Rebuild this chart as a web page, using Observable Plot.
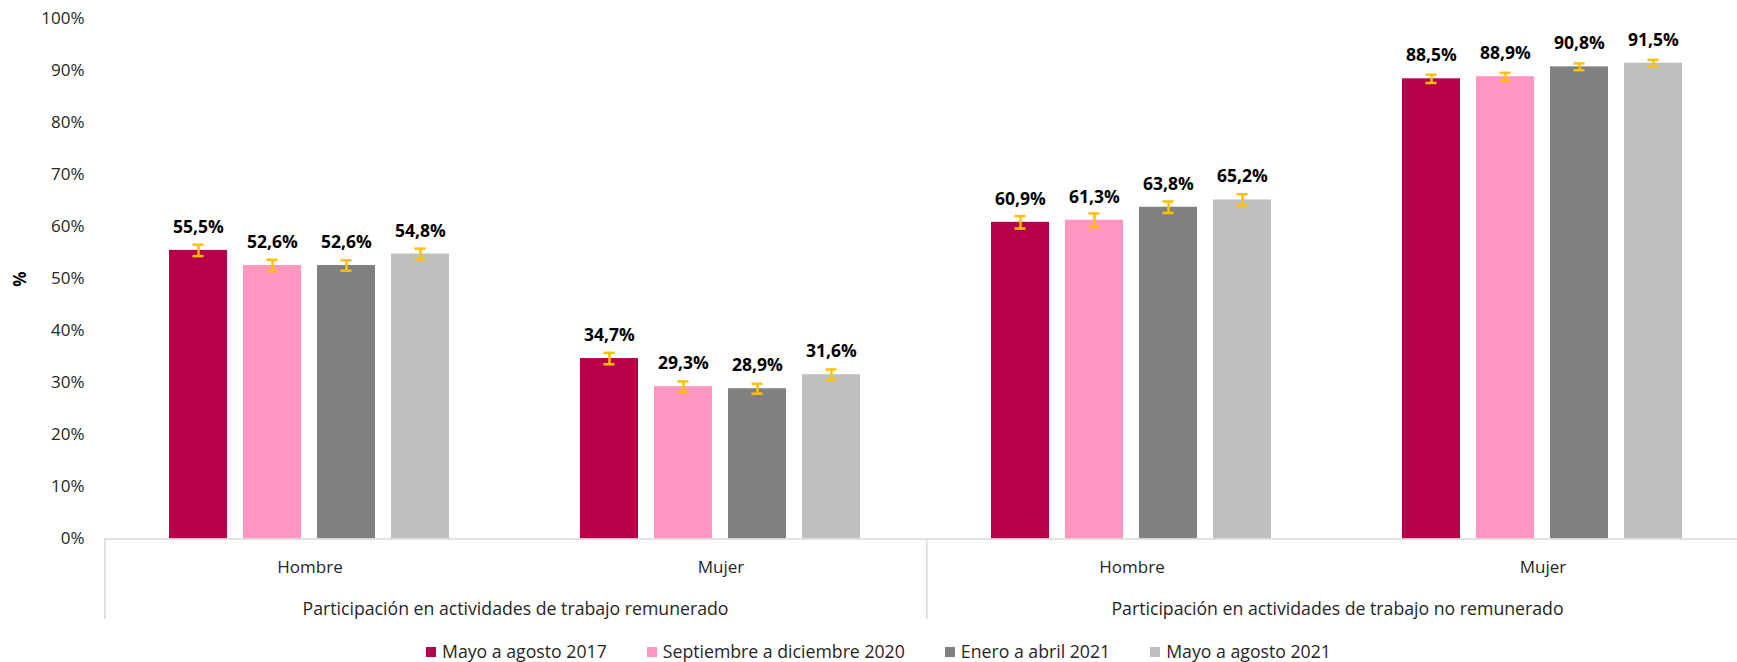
<!DOCTYPE html>
<html>
<head>
<meta charset="utf-8">
<script src="https://cdn.jsdelivr.net/npm/d3@7"></script>
<script src="https://cdn.jsdelivr.net/npm/@observablehq/plot@0.6"></script>
<style>
  html, body { margin: 0; padding: 0; background: #fff; overflow: hidden; width: 1737px; height: 662px; }
  #chart { position: absolute; left: 0; top: 0; width: 1748px; }
  #chart svg { max-width: none !important; }
  #legend { position: absolute; left: 426px; top: 640px; display: flex; gap: 40px;
            font-family: "Open Sans", sans-serif; font-size: 17.7px; line-height: 23px; color: #262626; white-space: nowrap; }
  .item { display: flex; align-items: center; }
  .sw { width: 10px; height: 10px; margin-right: 6px; }
</style>
</head>
<body>
<div id="chart"></div>
<div id="legend"></div>
<script>
// ---- data ----
const groups = ["Participación en actividades de trabajo remunerado", "Participación en actividades de trabajo no remunerado"];
const sexes = ["Hombre", "Mujer"];
const periods = ["Mayo a agosto 2017", "Septiembre a diciembre 2020", "Enero a abril 2021", "Mayo a agosto 2021"];
const colors = ["#B70049", "#FF96C1", "#808080", "#BFBFBF"];
const remHombre = [55.5, 52.6, 52.6, 54.8];
const remMujer = [34.7, 29.3, 28.9, 31.6];
const noRemHombre = [60.9, 61.3, 63.8, 65.2];
const noRemMujer = [88.5, 88.9, 90.8, 91.5];
// margin of error (± percentage points)
const errRemHombre = [1.1, 1.1, 1.0, 1.05];
const errRemMujer = [1.1, 1.0, 0.95, 1.0];
const errNoRemHombre = [1.2, 1.3, 1.1, 1.1];
const errNoRemMujer = [0.8, 0.75, 0.65, 0.65];
const yTicks = [0, 10, 20, 30, 40, 50, 60, 70, 80, 90, 100];

// ---- build table ----
const series = [
  [groups[0], sexes[0], remHombre, errRemHombre],
  [groups[0], sexes[1], remMujer, errRemMujer],
  [groups[1], sexes[0], noRemHombre, errNoRemHombre],
  [groups[1], sexes[1], noRemMujer, errNoRemMujer]
];
const keys = series.map(([g, s]) => g + "|" + s);
const rows = series.flatMap(([g, s, vals, errs]) =>
  periods.map((p, i) => ({key: g + "|" + s, group: g, sex: s, period: p, value: vals[i], err: errs[i]})));

// ---- layout ----
const W = 1748, H = 625;
const mL = 103, mR = 0, mT = 18.5, y0px = 538.5;
const mB = H - y0px;
const pIn = 0.21, pOut = 0.86;
const groupW = (W - mL - mR) / keys.length;
const step = groupW / (periods.length - pIn + 2 * pOut);
const bw = step * (1 - pIn);
const capW = 12;
const sepDepth = 15.5; // in % units below the baseline

const chart = Plot.plot({
  width: W, height: H,
  marginLeft: mL, marginRight: mR, marginTop: mT, marginBottom: mB,
  style: {fontFamily: "Open Sans", fontSize: "17px", color: "#262626", background: "transparent", overflow: "visible", maxWidth: "none"},
  fx: {domain: keys, padding: 0, label: null, tickSize: 0, tickPadding: 22, tickFormat: k => k.split("|")[1], axis: "bottom"},
  x: {domain: periods, paddingInner: pIn, paddingOuter: pOut, axis: null},
  y: {domain: [0, 100], ticks: yTicks, tickSize: 0, tickPadding: 20, tickFormat: d => d + "%", label: null},
  color: {domain: periods, range: colors},
  marks: [
    Plot.barY(rows, {fx: "key", x: "period", y: "value", fill: "period"}),
    Plot.ruleY([0], {stroke: "#d9d9d9", strokeWidth: 1.5}),
    Plot.ruleX([{k: keys[0]}, {k: keys[2]}], {fx: "k", x: () => periods[0], y1: 0, y2: -sepDepth,
      dx: -(pOut * step + bw / 2), stroke: "#d9d9d9", strokeWidth: 1.5}),
    Plot.ruleX(rows, {fx: "key", x: "period", y1: d => d.value - d.err, y2: d => d.value + d.err, stroke: "#FFC000", strokeWidth: 2.5}),
    Plot.tickY(rows, {fx: "key", x: "period", y: d => d.value - d.err, stroke: "#FFC000", strokeWidth: 2.5, insetLeft: (bw - capW) / 2, insetRight: (bw - capW) / 2}),
    Plot.tickY(rows, {fx: "key", x: "period", y: d => d.value + d.err, stroke: "#FFC000", strokeWidth: 2.5, insetLeft: (bw - capW) / 2, insetRight: (bw - capW) / 2}),
    Plot.text(rows, {fx: "key", x: "period", y: "value", text: d => d.value.toFixed(1).replace(".", ",") + "%",
      lineAnchor: "bottom", dy: -17.5, fontWeight: "bold", fontSize: 17.5, fill: "#000"}),
    Plot.text([{k: keys[1], label: groups[0]}, {k: keys[3], label: groups[1]}], {fx: "k", text: "label",
      frameAnchor: "bottom-left", textAnchor: "middle", lineAnchor: "bottom", dy: 75.5, fontSize: 17.7, fill: "#262626"}),
    Plot.text([{k: keys[0]}], {fx: "k", text: () => "%", frameAnchor: "left", rotate: -90, dx: -83.5,
      fontWeight: "bold", fill: "#000", textAnchor: "middle"})
  ]
});
document.getElementById("chart").appendChild(chart);

// ---- legend ----
const legend = document.getElementById("legend");
periods.forEach((p, i) => {
  const item = document.createElement("div");
  item.className = "item";
  const sw = document.createElement("span");
  sw.className = "sw";
  sw.style.background = colors[i];
  const t = document.createElement("span");
  t.textContent = p;
  item.appendChild(sw); item.appendChild(t);
  legend.appendChild(item);
});
</script>
</body>
</html>
